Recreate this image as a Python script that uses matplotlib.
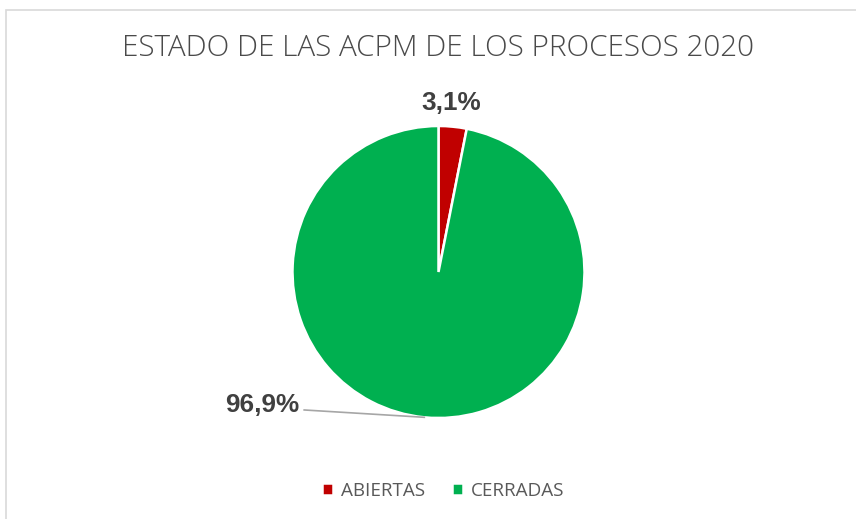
import numpy as np
import matplotlib.pyplot as plt
from matplotlib.patches import Rectangle

# data
categorias = ['ABIERTAS', 'CERRADAS']
valores    = [3.1, 96.9]
colores    = ['#C00000', '#00B050']
etiquetas  = ['3,1%', '96,9%']
titulo     = 'ESTADO DE LAS ACPM DE LOS PROCESOS 2020'

W, H = 856, 519
fig = plt.figure(figsize=(W/100, H/100), dpi=100)

# chart border (light gray frame)
fig.patches.append(Rectangle((6/W, -0.05), 1.0, (H-10)/H + 0.05, transform=fig.transFigure,
                             fill=False, edgecolor='#d9d9d9', linewidth=1.2))

# pie axes: centre (438.5, 272) px, radius 146 px
r = 146
cx, cy = 438.5, 272
ax = fig.add_axes([(cx-r)/W, (H-cy-r)/H, 2*r/W, 2*r/H])
wedges, _ = ax.pie(valores, colors=colores, startangle=90, counterclock=False,
                   wedgeprops=dict(edgecolor='white', linewidth=1.8))
ax.set_xlim(-1, 1)
ax.set_ylim(-1, 1)
ax.set_aspect('equal')

lblkw = dict(fontsize=18.8, fontweight='bold', color='#404040', family='Liberation Sans',
             ha='center', va='center')
# 3,1%
ax.text(0.086, 1.158, etiquetas[0], **lblkw)
# 96,9% with leader line to middle of the slice
w = wedges[1]
mid = np.deg2rad((w.theta1 + w.theta2) / 2)
px, py = np.cos(mid), np.sin(mid)
ax.text(-1.209, -0.911, etiquetas[1], **lblkw)
ax.plot([-0.92, px], [-0.945, py], color='#a6a6a6', lw=1.2, clip_on=False)

fig.text(438/W, 1 - 48/H, titulo, ha='center', va='center', fontsize=21.3,
         color='#4a4a4a', family='Open Sans', fontweight='light')

# legend
leg = fig.legend(wedges, categorias, loc='center', bbox_to_anchor=(443/W, 1 - 491/H),
                 ncol=2, frameon=False, handlelength=0.6, handleheight=0.6,
                 handletextpad=0.4, columnspacing=1.4, prop=dict(family='Open Sans', size=13.6))
for t in leg.get_texts():
    t.set_color('#595959')

plt.savefig('out.png', dpi=100)
